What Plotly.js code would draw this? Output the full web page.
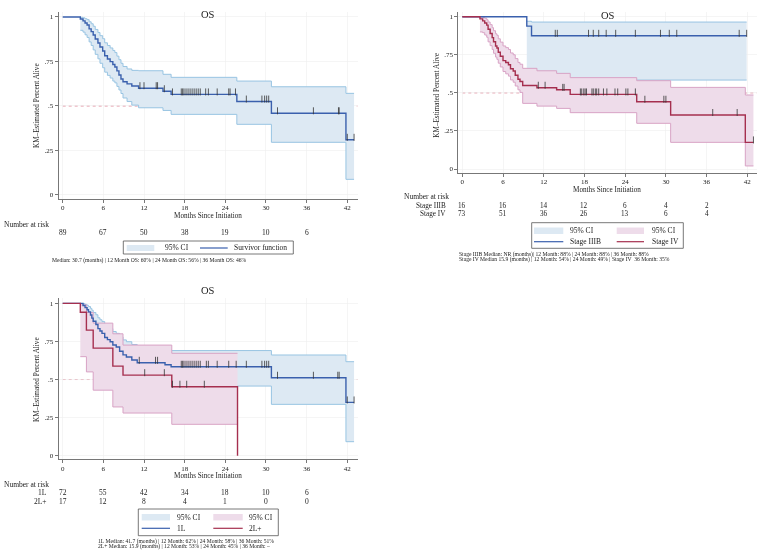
<!DOCTYPE html>
<html><head><meta charset="utf-8">
<script src="https://cdn.plot.ly/plotly-3.0.1.min.js"></script>
<style>html,body{margin:0;padding:0;background:#fff}#chart{width:760px;height:552px}.main-svg{will-change:transform}</style>
</head><body><div id="chart"></div>
<script>
// ---------------- DATA ----------------
const monthTicks = [0, 6, 12, 18, 24, 30, 36, 42];
const survTicks = [0, 0.25, 0.5, 0.75, 1];
const survTickText = ['0', '.25', '.5', '.75', '1'];
const riskTicks = [0, 6, 12, 18, 24, 30, 36];

// Panel 1: overall OS
const osTime = [0,2.6,3.0,3.3,3.6,3.9,4.2,4.5,4.8,5.2,5.5,5.9,6.2,6.6,7.0,7.4,7.7,8.0,8.3,8.6,8.9,9.5,10.2,11.2,14.8,16.0,25.7,30.8,41.8,43.0];
const osSurv = [1,0.989,0.978,0.966,0.955,0.933,0.918,0.899,0.876,0.854,0.831,0.809,0.782,0.764,0.749,0.733,0.719,0.697,0.674,0.652,0.636,0.624,0.612,0.600,0.583,0.565,0.525,0.459,0.310,0.310];
const osLo = [null,0.925,0.915,0.900,0.885,0.860,0.840,0.815,0.790,0.765,0.740,0.715,0.690,0.672,0.657,0.640,0.630,0.610,0.590,0.570,0.545,0.525,0.505,0.490,0.475,0.453,0.397,0.296,0.088,0.088];
const osHi = [null,0.998,0.995,0.990,0.985,0.973,0.962,0.948,0.930,0.913,0.895,0.878,0.855,0.840,0.826,0.812,0.800,0.780,0.760,0.740,0.722,0.708,0.700,0.698,0.678,0.661,0.640,0.608,0.571,0.571];
const osCens = [11.4,12.0,13.8,14.0,15.0,16.2,17.5,17.7,17.9,18.2,18.5,18.8,19.1,19.4,19.7,20.0,20.3,21.1,21.5,22.8,24.5,24.7,25.5,27.1,29.4,29.8,30.1,30.4,31.7,37.0,40.7,40.8,42.0,43.0];
const osRisk = [89, 67, 50, 38, 19, 10, 6];

// Panel 2: by stage
const s3Time = [0, 9.5, 10.2, 41.9];
const s3Surv = [1, 0.938, 0.875, 0.875];
const s3Lo = [null, 0.600, 0.584, 0.584];
const s3Hi = [null, 0.970, 0.965, 0.965];
const s3Cens = [13.7,14.0,18.6,19.3,20.1,21.2,22.6,25.5,29.2,30.5,31.6,40.8,41.9];
const s3Risk = [16, 16, 14, 12, 6, 4, 2];

const s4Time = [0,2.6,3.0,3.3,3.6,3.8,4.1,4.4,4.6,4.9,5.1,5.3,5.6,6.0,6.4,6.8,7.1,7.5,7.8,8.2,8.5,8.9,11.0,13.9,15.9,25.7,30.7,41.7,42.9];
const s4Surv = [1,0.986,0.973,0.959,0.945,0.918,0.890,0.863,0.836,0.808,0.795,0.767,0.740,0.712,0.699,0.685,0.658,0.644,0.616,0.589,0.575,0.548,0.534,0.520,0.490,0.442,0.355,0.175,0.175];
const s4Lo = [null,0.900,0.895,0.880,0.865,0.835,0.810,0.785,0.760,0.735,0.720,0.695,0.670,0.640,0.625,0.610,0.585,0.570,0.545,0.520,0.503,0.431,0.413,0.398,0.370,0.300,0.175,0.020,0.020];
const s4Hi = [null,0.998,0.995,0.990,0.980,0.965,0.948,0.928,0.908,0.888,0.878,0.855,0.833,0.808,0.797,0.785,0.762,0.750,0.725,0.700,0.688,0.661,0.645,0.628,0.600,0.580,0.536,0.486,0.486];
const s4Cens = [11.2,12.2,14.8,15.0,17.4,17.6,17.9,18.1,18.3,19.1,19.3,19.6,19.8,20.1,20.8,21.3,22.5,22.9,24.1,24.4,25.5,26.9,29.7,30.0,36.9,40.5,42.9];
const s4Risk = [73, 51, 36, 26, 13, 6, 4];

// Panel 3: by line of therapy
const l1Time = [0,3.0,3.3,3.6,3.8,4.1,4.3,4.5,4.9,5.2,5.5,5.8,6.2,6.6,7.0,7.4,7.9,8.4,8.9,9.4,10.2,11.0,15.1,16.0,30.8,41.8,43.0];
const l1Surv = [1,0.986,0.972,0.958,0.944,0.923,0.903,0.882,0.861,0.834,0.818,0.803,0.776,0.762,0.748,0.727,0.713,0.686,0.662,0.648,0.628,0.610,0.597,0.584,0.512,0.350,0.350];
const l1Lo = [null,0.910,0.895,0.878,0.862,0.838,0.815,0.790,0.768,0.738,0.720,0.703,0.672,0.656,0.640,0.617,0.602,0.572,0.546,0.531,0.510,0.490,0.477,0.457,0.337,0.092,0.092];
const l1Hi = [null,0.998,0.993,0.987,0.979,0.967,0.955,0.940,0.925,0.905,0.892,0.880,0.858,0.846,0.834,0.815,0.803,0.780,0.760,0.748,0.730,0.715,0.700,0.690,0.661,0.617,0.617];
const l1Cens = [11.3,13.7,14.0,17.5,17.7,17.9,18.2,18.5,18.8,19.1,19.4,19.7,20.0,20.3,21.2,21.5,22.8,24.5,25.6,27.1,29.4,29.8,30.1,30.4,31.7,37.0,40.6,40.8,42.0,43.0];
const l1Risk = [72, 55, 42, 34, 18, 10, 6];

const l2Time = [0, 2.6, 3.5, 4.5, 7.4, 8.9, 16.1, 25.8];
const l2Surv = [1, 0.941, 0.824, 0.706, 0.588, 0.529, 0.453, 0];
const l2Lo = [null, 0.65, 0.55, 0.43, 0.32, 0.28, 0.206, 0.206];
const l2Hi = [null, 0.99, 0.94, 0.87, 0.80, 0.726, 0.672, 0.672];
const l2Cens = [12.1, 15.0, 16.2, 17.3, 18.3, 20.9];
const l2Risk = [17, 12, 8, 4, 1, 0, 0];

// ---------------- STYLE ----------------
const FONT = 'Liberation Serif, Times New Roman, serif';
const TXT = '#222';
const BLUE = '#3a60ad', RED = '#a52f4f';
const BLUE_FILL = '#dde9f3', BLUE_EDGE = '#98c4e2';
const PINK_FILL = '#eedcea', PINK_EDGE = '#d8a3c5';
const W = 760, H = 552;
const px = x => x / W;
const py = y => 1 - y / H;

function stepAt(times, vals, t) {
  let v = vals[0];
  for (let i = 0; i < times.length; i++) { if (times[i] <= t + 1e-9) v = vals[i]; }
  return v;
}

const traces = [];
function band(ax, time, lo, hi, fill, edge) {
  const t = [], l = [], h = [];
  for (let i = 0; i < time.length; i++) if (lo[i] !== null) { t.push(time[i]); l.push(lo[i]); h.push(hi[i]); }
  traces.push({x: t, y: l, xaxis: 'x' + ax, yaxis: 'y' + ax, mode: 'lines', line: {shape: 'hv', color: edge, width: 1}, hoverinfo: 'skip', showlegend: false});
  traces.push({x: t, y: h, xaxis: 'x' + ax, yaxis: 'y' + ax, mode: 'lines', fill: 'tonexty', fillcolor: fill, line: {shape: 'hv', color: edge, width: 1}, hoverinfo: 'skip', showlegend: false});
}
function curve(ax, time, surv, color) {
  traces.push({x: time, y: surv, xaxis: 'x' + ax, yaxis: 'y' + ax, mode: 'lines', line: {shape: 'hv', color: color, width: 1.4}, showlegend: false});
}
function cens(ax, time, surv, ct, off) {
  traces.push({x: ct, y: ct.map(c => stepAt(time, surv, c) + off), xaxis: 'x' + ax, yaxis: 'y' + ax, mode: 'markers',
    marker: {symbol: 'line-ns', size: 5, line: {width: 0.8, color: '#333'}}, showlegend: false, hoverinfo: 'skip'});
}

// Panel 1
band('', osTime, osLo, osHi, BLUE_FILL, BLUE_EDGE);
curve('', osTime, osSurv, BLUE);
cens('', osTime, osSurv, osCens, 0.014);
// Panel 2
band('2', s3Time, s3Lo, s3Hi, BLUE_FILL, BLUE_EDGE);
band('2', s4Time, s4Lo, s4Hi, PINK_FILL, PINK_EDGE);
curve('2', s3Time, s3Surv, BLUE);
curve('2', s4Time, s4Surv, RED);
cens('2', s3Time, s3Surv, s3Cens, 0.016);
cens('2', s4Time, s4Surv, s4Cens, 0.016);
// Panel 3
band('3', l1Time, l1Lo, l1Hi, BLUE_FILL, BLUE_EDGE);
band('3', l2Time, l2Lo, l2Hi, PINK_FILL, PINK_EDGE);
curve('3', l1Time, l1Surv, BLUE);
curve('3', l2Time, l2Surv, RED);
cens('3', l1Time, l1Surv, l1Cens, 0.016);
cens('3', l2Time, l2Surv, l2Cens, 0.016);

function xax(dom, range, anchor) {
  return {domain: dom, range: range, anchor: anchor, tickvals: monthTicks, ticks: 'outside', ticklen: 3, tickcolor: '#777',
    showline: true, linecolor: '#777', linewidth: 1, showgrid: true, gridcolor: '#efefef', gridwidth: 0.6, zeroline: false,
    ticklabelstandoff: -1,
    tickfont: {family: FONT, size: 7, color: TXT}, fixedrange: true};
}
function yax(dom, range, anchor) {
  return {domain: dom, range: range, anchor: anchor, tickvals: survTicks, ticktext: survTickText, ticks: 'outside', ticklen: 3, tickcolor: '#777',
    showline: true, linecolor: '#777', linewidth: 1, showgrid: true, gridcolor: '#efefef', gridwidth: 0.6, zeroline: false,
    tickfont: {family: FONT, size: 7, color: TXT}, fixedrange: true};
}

const annotations = [];
const shapes = [];
function ann(text, x, y, o) {
  annotations.push(Object.assign({text: text, x: px(x), y: py(y), xref: 'paper', yref: 'paper', showarrow: false, borderpad: 0,
    xanchor: 'center', yanchor: 'middle', font: {family: FONT, size: 7.5, color: TXT}}, o || {}));
}
function riskRow(ax, vals, y, size) {
  vals.forEach((v, i) => annotations.push({text: String(v), x: riskTicks[i], xref: 'x' + ax, y: py(y), yref: 'paper',
    showarrow: false, borderpad: 0, xanchor: 'center', yanchor: 'middle', font: {family: FONT, size: size || 7.5, color: TXT}}));
}
function medianLine(ax, xmax) {
  shapes.push({type: 'line', xref: 'x' + ax, yref: 'y' + ax, x0: 0, x1: xmax, y0: 0.5, y1: 0.5, layer: 'below',
    line: {color: '#e08c9c', width: 1, dash: 'dot'}});
}
function rect(x0, y0, x1, y1, fill, line) {
  shapes.push({type: 'rect', xref: 'paper', yref: 'paper', x0: px(x0), x1: px(x1), y0: py(y1), y1: py(y0),
    fillcolor: fill, line: line || {width: 0}});
}
function hline(x0, x1, y, color) {
  shapes.push({type: 'line', xref: 'paper', yref: 'paper', x0: px(x0), x1: px(x1), y0: py(y), y1: py(y), line: {color: color, width: 1.2}});
}
const AX_TITLE = {family: FONT, size: 7.2, color: TXT};
const NOTE = {family: FONT, size: 5.6, color: TXT};

// ----- Panel 1 texts -----
ann('OS', 208, 14, {font: {family: FONT, size: 10.5, color: TXT}});
ann('Months Since Initiation', 208, 215.5, {font: AX_TITLE});
ann('KM–Estimated Percent Alive', 37, 106, {textangle: -90, font: AX_TITLE});
ann('Number at risk', 3, 224, {xanchor: 'left'});
riskRow('', osRisk, 232);
rect(123.3, 241, 293.3, 254, 'rgba(0,0,0,0)', {color: '#555', width: 0.8});
rect(126.7, 245, 154.3, 251, BLUE_FILL);
ann('95% CI', 164.3, 247.7, {xanchor: 'left'});
hline(200, 227.7, 248, BLUE);
ann('Survivor function', 233.3, 247.7, {xanchor: 'left'});
ann('Median: 30.7 (months) | 12 Month OS: 60% | 24 Month OS: 56% | 36 Month OS: 46%', 51, 260.5, {xanchor: 'left', font: NOTE});
medianLine('', 43.5);

// ----- Panel 2 texts -----
ann('OS', 608, 15, {font: {family: FONT, size: 10.5, color: TXT}});
ann('Months Since Initiation', 607, 190, {font: AX_TITLE});
ann('KM–Estimated Percent Alive', 436.7, 95, {textangle: -90, font: AX_TITLE});
ann('Number at risk', 403, 197, {xanchor: 'left'});
ann('Stage IIIB', 447, 206.3, {xanchor: 'right', font: {family: FONT, size: 7.2, color: TXT}});
ann('Stage IV', 447, 214.4, {xanchor: 'right', font: {family: FONT, size: 7.2, color: TXT}});
riskRow('2', s3Risk, 206.3, 7.2);
riskRow('2', s4Risk, 214.4, 7.2);
rect(531.7, 222.7, 683.3, 248.3, 'rgba(0,0,0,0)', {color: '#555', width: 0.8});
rect(534, 227.5, 563.3, 234, BLUE_FILL);
ann('95% CI', 569, 230.7, {xanchor: 'left'});
rect(616.7, 227.5, 644, 234, PINK_FILL);
ann('95% CI', 650.7, 230.7, {xanchor: 'left'});
hline(534, 563.3, 241.7, BLUE);
ann('Stage IIIB', 569, 241.5, {xanchor: 'left'});
hline(616.7, 644, 241.7, RED);
ann('Stage IV', 650.7, 241.5, {xanchor: 'left'});
ann('Stage IIIB Median: NR (months)| 12 Month: 88% | 24 Month: 88% | 36 Month: 88%', 458, 254, {xanchor: 'left', font: NOTE});
ann('Stage IV Median 15.9 (months) | 12 Month: 54% | 24 Month: 49% | Stage IV  36 Month: 35%', 458, 259.7, {xanchor: 'left', font: NOTE});
medianLine('2', 43.38);

// ----- Panel 3 texts -----
ann('OS', 208, 290.7, {font: {family: FONT, size: 10.5, color: TXT}});
ann('Months Since Initiation', 208, 476.2, {font: AX_TITLE});
ann('KM–Estimated Percent Alive', 37, 380, {textangle: -90, font: AX_TITLE});
ann('Number at risk', 3, 484, {xanchor: 'left'});
ann('1L', 48.3, 492.5, {xanchor: 'right'});
ann('2L+', 48.3, 501, {xanchor: 'right'});
riskRow('3', l1Risk, 492.5);
riskRow('3', l2Risk, 501);
rect(138.3, 509, 278.3, 535.7, 'rgba(0,0,0,0)', {color: '#555', width: 0.8});
rect(141.7, 514, 170, 520.5, BLUE_FILL);
ann('95% CI', 175.7, 517.3, {xanchor: 'left'});
rect(213.3, 514, 242.7, 520.5, PINK_FILL);
ann('95% CI', 248.3, 517.3, {xanchor: 'left'});
hline(141.7, 170, 528.3, BLUE);
ann('1L', 175.7, 528.3, {xanchor: 'left'});
hline(213.3, 242.7, 528.3, RED);
ann('2L+', 248.3, 528.3, {xanchor: 'left'});
ann('1L Median: 41.7 (months) | 12 Month: 62% | 24 Month: 58% | 36 Month: 51%', 96.7, 541, {xanchor: 'left', font: NOTE});
ann('2L+ Median: 15.9 (months) | 12 Month: 53% | 24 Month: 45% | 36 Month: –', 96.7, 546.5, {xanchor: 'left', font: NOTE});
medianLine('3', 43.5);

const layout = {
  width: W, height: H, margin: {l: 0, r: 0, t: 0, b: 0}, paper_bgcolor: '#fff', plot_bgcolor: '#fff', showlegend: false,
  font: {family: FONT, color: TXT},
  xaxis: xax([px(58.7), px(358)], [-0.59, 43.58], 'y'),
  yaxis: yax([py(199), py(12)], [-0.0225, 1.028], 'x'),
  xaxis2: xax([px(458.3), px(756.7)], [-0.59, 43.38], 'y2'),
  yaxis2: yax([py(172.7), py(12)], [-0.0243, 1.031], 'x2'),
  xaxis3: xax([px(58.7), px(358)], [-0.59, 43.58], 'y3'),
  yaxis3: yax([py(459.3), py(298)], [-0.0236, 1.035], 'x3'),
  annotations: annotations, shapes: shapes
};
Plotly.newPlot('chart', traces, layout, {displayModeBar: false, staticPlot: true});
</script></body></html>
